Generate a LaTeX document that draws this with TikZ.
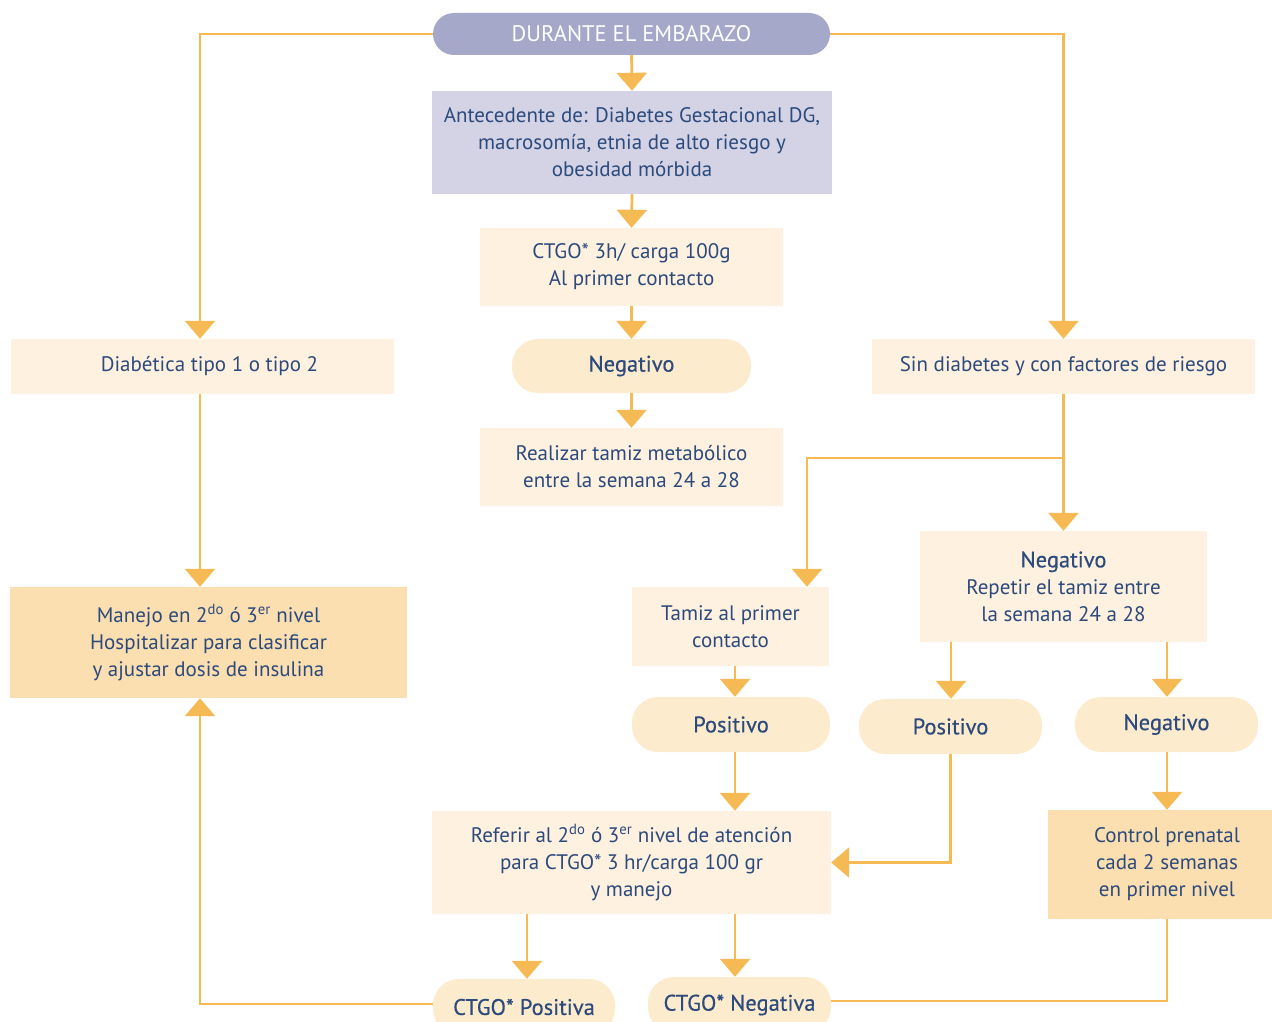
\documentclass[tikz,border=0pt]{standalone}
\usepackage{fontspec}
\setmainfont{PT Sans}
\usetikzlibrary{arrows.meta}
\definecolor{ln}{HTML}{F6BA55}
\definecolor{lt}{HTML}{FEF1DF}
\definecolor{pl}{HTML}{FDEBCD}
\definecolor{dk}{HTML}{FBDFB0}
\definecolor{lav}{HTML}{D3D3E5}
\definecolor{pur}{HTML}{A6A8C9}
\definecolor{tx}{HTML}{2C4A7C}
\newcommand{\medw}{\fontsize{22.5}{27}\selectfont\addfontfeature{FakeBold=0.4}}
\tikzset{
  base/.style={rectangle, inner sep=0pt, align=center, text=tx, font=\fontsize{21}{27}\selectfont},
  lbox/.style={base, fill=lt},
  dbox/.style={base, fill=dk},
  pill/.style={base, fill=pl, rounded corners=26pt, font=\medw},
  arr/.style={draw=ln, line width=2.7pt, -{Triangle[width=30pt,length=18pt]}},
  lin/.style={draw=ln, line width=2.7pt}
}
\begin{document}
\begin{tikzpicture}[x=1pt,y=-1pt]
\useasboundingbox (0,0) rectangle (1272,1022);
\clip (0,0) rectangle (1272,1022);
\coordinate (c200) at (200,0);
\coordinate (c527) at (527,0);
\coordinate (c735) at (735,0);
\coordinate (c807) at (807,0);
\coordinate (c951) at (951,0);
\coordinate (c1167) at (1167,0);

\node[base, fill=pur, text=white, rounded corners=21pt, minimum width=397pt, minimum height=42pt, font=\fontsize{22.5}{27}\selectfont] (top) at (631.5,34) {DURANTE EL EMBARAZO};
\node[base, fill=lav, minimum width=400pt, minimum height=103pt] (ant) at (632,142.5) {Antecedente de: Diabetes Gestacional DG,\\macrosomía, etnia de alto riesgo y\\obesidad mórbida};
\node[lbox, minimum width=303pt, minimum height=78pt] (ctgo) at (631.5,267) {CTGO* 3h/ carga 100g\\Al primer contacto};
\node[pill, minimum width=239pt, minimum height=54pt] (neg1) at (631.5,366) {Negativo};
\node[lbox, minimum width=303pt, minimum height=78pt] (real) at (631.5,467) {Realizar tamiz metabólico\\entre la semana 24 a 28};
\node[lbox, minimum width=383pt, minimum height=55pt] (dia) at (202.5,366.5) {\hspace*{14pt}Diabética tipo 1 o tipo 2};
\node[lbox, minimum width=383pt, minimum height=55pt] (sin) at (1063.5,366.5) {Sin diabetes y con factores de riesgo};
\node[dbox, minimum width=397pt, minimum height=111pt] (man) at (208.5,642.5) {Manejo en 2\textsuperscript{do} ó 3\textsuperscript{er} nivel\\Hospitalizar para clasificar\\y ajustar dosis de insulina};
\node[lbox, minimum width=197pt, minimum height=79pt] (tam) at (730.5,626.5) {Tamiz al primer\\contacto};
\node[lbox, minimum width=287pt, minimum height=111pt] (rep) at (1063.5,586.5) {{\medw Negativo}\\Repetir el tamiz entre\\la semana 24 a 28};
\node[pill, minimum width=198pt, minimum height=55pt] (pos1) at (731,724.5) {Positivo};
\node[pill, minimum width=183pt, minimum height=55pt] (pos2) at (950.5,726.5) {Positivo};
\node[pill, minimum width=183pt, minimum height=55pt] (neg3) at (1166.5,724.5) {Negativo};
\node[lbox, minimum width=399pt, minimum height=103pt] (ref) at (631.5,862.5) {Referir al 2\textsuperscript{do} ó 3\textsuperscript{er} nivel de atención\\para CTGO* 3 hr/carga 100 gr\\y manejo};
\node[dbox, minimum width=238pt, minimum height=109pt] (ctl) at (1167,864.5) {Control prenatal\\cada 2 semanas\\en primer nivel};
\node[pill, minimum width=182pt, minimum height=56pt] (cpos) at (524,1007) {CTGO* Positiva};
\node[pill, minimum width=183pt, minimum height=56pt] (cneg) at (739.5,1005) {CTGO* Negativa};

\draw[arr] (top.west) -| (dia.north -| c200);
\draw[arr] (top.east) -| (sin.north);
\draw[arr] (top.south) -- (ant.north);
\draw[arr] (ant.south) -- (ctgo.north);
\draw[arr] (ctgo.south) -- (neg1.north);
\draw[arr] (neg1.south) -- (real.north);
\draw[arr] (dia.south -| c200) -- (man.north -| c200);
\draw[arr] (sin.south) -- (rep.north);
\coordinate (br) at (1063.5,458);
\draw[arr] (br) -| (tam.north -| c807);
\draw[arr] (tam.south -| c735) -- (pos1.north -| c735);
\draw[arr] (rep.south -| c951) -- (pos2.north -| c951);
\draw[arr] (rep.south -| c1167) -- (neg3.north -| c1167);
\draw[arr] (pos1.south -| c735) -- (ref.north -| c735);
\draw[arr] (pos2.south) |- (ref.east);
\draw[arr] (neg3.south -| c1167) -- (ctl.north -| c1167);
\draw[arr] (ref.south -| c527) -- (cpos.north -| c527);
\draw[arr] (ref.south -| c735) -- (cneg.north -| c735);
\draw[arr] ([yshift=3pt]cpos.west) -| (man.south -| c200);
\draw[lin] (ctl.south -| c1167) |- ([yshift=4pt]cneg.east);
\end{tikzpicture}
\end{document}
